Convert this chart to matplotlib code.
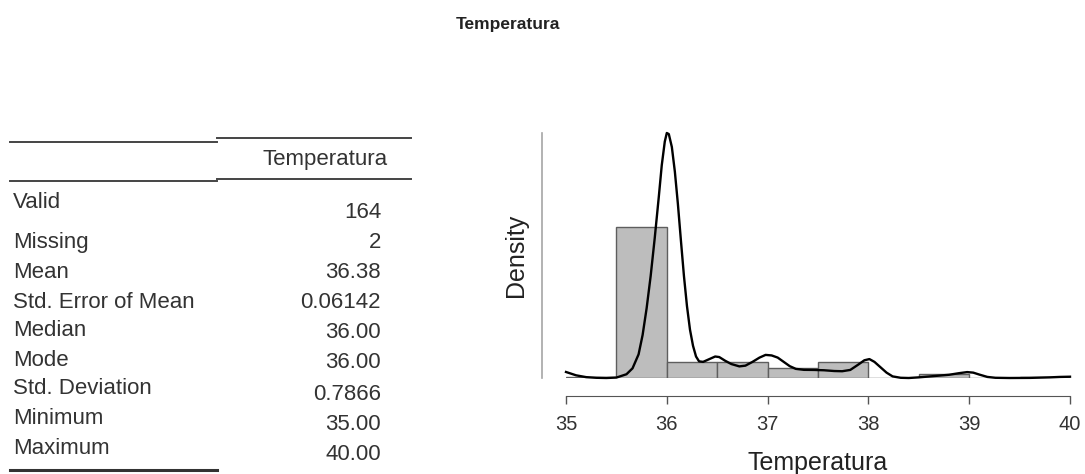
import matplotlib
matplotlib.use("Agg")
import matplotlib.pyplot as plt
from matplotlib.lines import Line2D

plt.rcParams["font.family"] = ["Liberation Sans", "DejaVu Sans"]

W, H = 1085, 474

# descriptive statistics table
COLUMN_NAME = "Temperatura"
ROW_NAMES = ["Valid", "Missing", "Mean", "Std. Error of Mean", "Median",
             "Mode", "Std. Deviation", "Minimum", "Maximum"]
ROW_VALUES = ["164", "2", "36.38", "0.06142", "36.00",
              "36.00", "0.7866", "35.00", "40.00"]

# histogram (counts per half-degree bin)
N_VALID = 164
BIN_WIDTH = 0.5
BIN_LEFT = [35.0, 35.5, 36.0, 36.5, 37.0, 37.5, 38.0, 38.5, 39.0, 39.5]
BIN_COUNTS = [1, 115, 12, 12, 8, 12, 0, 3, 0, 1]

# kernel density curve
KDE_X = [35.00, 35.10, 35.20, 35.30, 35.40, 35.50, 35.60, 35.66, 35.72, 35.76,
         35.80, 35.84, 35.88, 35.92, 35.95, 35.98, 36.00, 36.02, 36.05, 36.08,
         36.11, 36.14, 36.17, 36.20, 36.23, 36.26, 36.29, 36.32, 36.36, 36.42,
         36.48, 36.52, 36.58, 36.64, 36.72, 36.78, 36.85, 36.92, 36.98, 37.04,
         37.10, 37.16, 37.22, 37.28, 37.36, 37.46, 37.56, 37.66, 37.74, 37.82,
         37.90, 37.96, 38.01, 38.06, 38.12, 38.18, 38.24, 38.32, 38.40, 38.50,
         38.60, 38.70, 38.80, 38.90, 38.98, 39.04, 39.10, 39.18, 39.26, 39.40,
         39.60, 39.80, 39.90, 40.00]
KDE_Y = [0.056, 0.025, 0.008, 0.002, 0.000, 0.004, 0.035, 0.090, 0.220, 0.400,
         0.650, 0.950, 1.300, 1.680, 1.980, 2.200, 2.280, 2.270, 2.150, 1.920,
         1.620, 1.280, 0.950, 0.670, 0.450, 0.300, 0.200, 0.155, 0.150, 0.175,
         0.200, 0.195, 0.160, 0.130, 0.108, 0.115, 0.150, 0.190, 0.215, 0.210,
         0.190, 0.150, 0.110, 0.085, 0.076, 0.075, 0.072, 0.065, 0.063, 0.075,
         0.125, 0.165, 0.176, 0.150, 0.100, 0.050, 0.015, 0.002, 0.000, 0.006,
         0.014, 0.022, 0.030, 0.045, 0.055, 0.050, 0.032, 0.010, 0.002, 0.000,
         0.001, 0.006, 0.010, 0.012]


def fx(px):
    return px / W


def fy(py):
    return 1 - py / H


fig = plt.figure(figsize=(W / 100, H / 100), dpi=100)

fig.text(fx(508), fy(24), "Temperatura", ha="center", va="center",
         fontsize=12.5, fontweight="bold", color="#222222")

# --- table ---
line_kw = dict(color="#444444", lw=1.4)
fig.add_artist(Line2D([fx(10), fx(217)], [fy(141.5)] * 2, **line_kw))
fig.add_artist(Line2D([fx(217), fx(411)], [fy(138.5)] * 2, **line_kw))
fig.add_artist(Line2D([fx(10), fx(217)], [fy(181)] * 2, **line_kw))
fig.add_artist(Line2D([fx(217), fx(411)], [fy(179)] * 2, **line_kw))
fig.add_artist(Line2D([fx(10), fx(217)], [fy(470)] * 2, color="#333333", lw=2.2))

fig.text(fx(388), fy(159), COLUMN_NAME, ha="right", va="center",
         fontsize=16, color="#333333")

label_y = [203, 243, 272, 302, 331, 360, 389, 419, 448]
value_y = [213, 243, 273, 303, 333, 363, 394, 424, 454]
for name, val, ly, vy in zip(ROW_NAMES, ROW_VALUES, label_y, value_y):
    fig.text(fx(13), fy(ly), name, ha="left", va="center",
             fontsize=16, color="#333333")
    fig.text(fx(381), fy(vy), val, ha="right", va="center",
             fontsize=16, color="#333333")

# --- distribution plot ---
ax = fig.add_axes([fx(566), fy(378), 504 / W, 245 / H])
density = [c / (N_VALID * BIN_WIDTH) for c in BIN_COUNTS]
ax.bar(BIN_LEFT, density, width=BIN_WIDTH, align="edge",
       color="#bdbdbd", edgecolor="#5e5e5e", linewidth=1.0)
ax.plot(KDE_X, KDE_Y, color="black", lw=1.7, clip_on=False)

ax.set_xlim(35, 40)
ax.set_ylim(0, max(KDE_Y))
ax.set_xticks([35, 36, 37, 38, 39, 40])
ax.set_yticks([])

for side in ("top", "right"):
    ax.spines[side].set_visible(False)
ax.spines["bottom"].set_position(("outward", 18 * 0.72))
ax.spines["bottom"].set_color("#555555")
ax.spines["left"].set_position(("outward", 24.5 * 0.72))
ax.spines["left"].set_color("#a5a5a5")
ax.spines["left"].set_linewidth(1.2)

ax.tick_params(axis="x", length=6, width=1, color="#555555",
               labelsize=14.5, labelcolor="#333333", pad=8)
ax.set_xlabel("Temperatura", fontsize=18, color="#222222", labelpad=12)
ax.set_ylabel("Density", fontsize=18, color="#222222", labelpad=10)

fig.savefig("out.png", dpi=100)
